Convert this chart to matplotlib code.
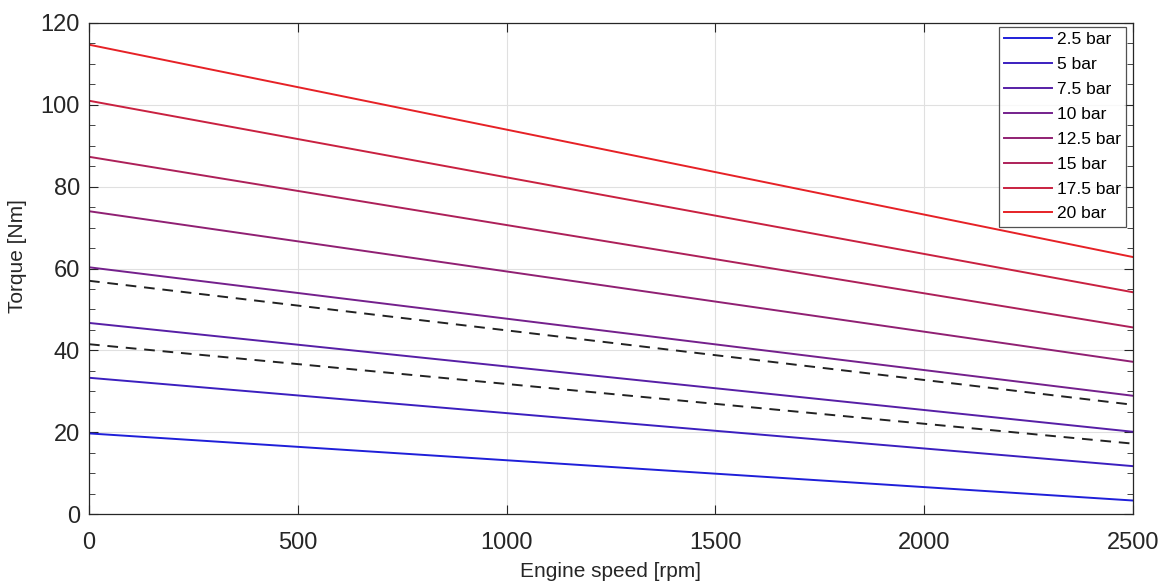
import numpy as np
import matplotlib
matplotlib.use("Agg")
import matplotlib.pyplot as plt
from matplotlib.ticker import MultipleLocator

plt.rcParams['font.family'] = ['Liberation Sans', 'DejaVu Sans']

# Torque vs engine speed for different mean effective pressures
speed = [0, 2500]
pressures = ["2.5 bar", "5 bar", "7.5 bar", "10 bar", "12.5 bar", "15 bar", "17.5 bar", "20 bar"]
torque_start = [19.7, 33.3, 46.7, 60.3, 74.0, 87.3, 101.0, 114.7]
torque_end = [3.3, 11.7, 20.1, 28.9, 37.2, 45.6, 54.2, 62.8]

# limit curves (dashed)
limit_start = [57.0, 41.5]
limit_end = [26.7, 17.2]

fig = plt.figure(figsize=(11.68, 5.82), dpi=100)
ax = fig.add_axes([0.0762, 0.1168, 0.8938, 0.8437])

c_low = np.array([0.12, 0.12, 0.85])
c_high = np.array([0.90, 0.13, 0.15])
n = len(pressures)
for i, (name, t0, t1) in enumerate(zip(pressures, torque_start, torque_end)):
    f = i / (n - 1)
    color = (1 - f) * c_low + f * c_high
    ax.plot(speed, [t0, t1], color=color, lw=1.4, label=name)

for t0, t1 in zip(limit_start, limit_end):
    ax.plot(speed, [t0, t1], color='#222222', lw=1.4, ls=(0, (5.5, 4)))

ax.set_xlim(0, 2500)
ax.set_ylim(0, 120)
ax.xaxis.set_major_locator(MultipleLocator(500))
ax.yaxis.set_major_locator(MultipleLocator(20))
ax.yaxis.set_minor_locator(MultipleLocator(5))
ax.grid(True, which='major', color='#e0e0e0', lw=0.8)
ax.set_axisbelow(True)

ax.tick_params(which='both', direction='in', top=True, right=True,
               labelsize=17, colors='#262626')
ax.tick_params(which='major', length=6.5)
ax.tick_params(which='minor', length=4.5)
ax.tick_params(axis='x', pad=13)
ax.tick_params(axis='y', pad=6.5)
for sp in ax.spines.values():
    sp.set_color('#262626')
    sp.set_linewidth(0.9)

ax.set_xlabel("Engine speed [rpm]", fontsize=15, color='#262626')
ax.set_ylabel("Torque [Nm]", fontsize=15, color='#262626')
ax.xaxis.set_label_coords(0.5, -0.097)
ax.yaxis.set_label_coords(-0.0594, 0.525)

leg = ax.legend(loc='upper right', bbox_to_anchor=(0.9933, 0.9919),
                fontsize=12.5, frameon=True, fancybox=False,
                edgecolor='#262626', handlelength=2.8, handletextpad=0.25,
                labelspacing=0.56, borderaxespad=0.0, borderpad=0.3)
leg.get_frame().set_linewidth(0.9)

fig.savefig("out.png", dpi=100)
